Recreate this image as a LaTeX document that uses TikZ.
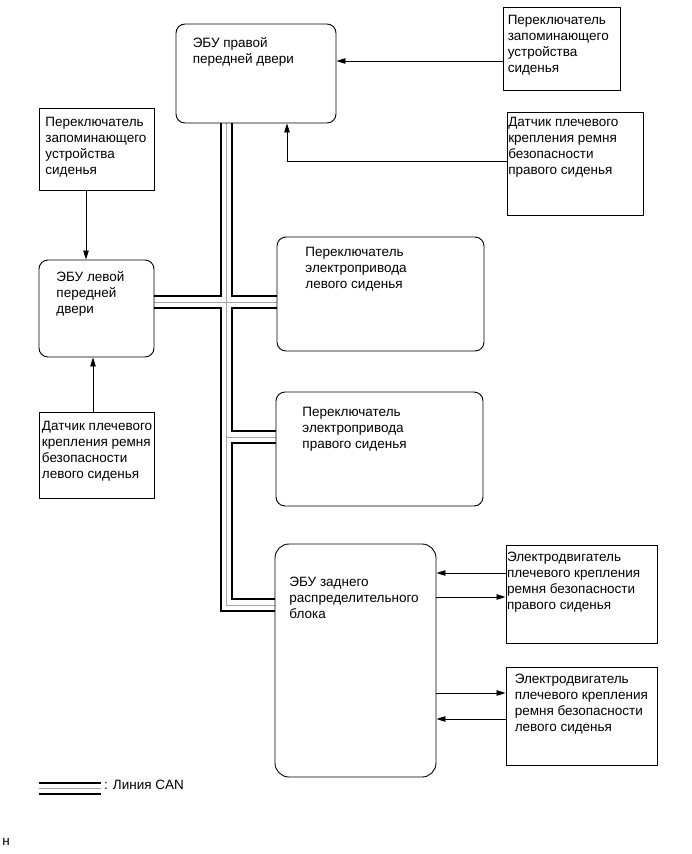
\documentclass[tikz,border=0pt]{standalone}
\usepackage{fontspec}
\setmainfont{Liberation Sans}
\usetikzlibrary{arrows.meta,backgrounds}

\begin{document}
\begin{tikzpicture}[
  x=1pt,y=-1pt,
  font=\fontsize{13.5}{16}\selectfont,
  box/.style={draw=black,line width=0.9pt,inner sep=0pt},
  rbox/.style={box,rounded corners=9pt},
  txt/.style={anchor=north west,inner sep=0pt,align=left},
  arr/.style={-{Triangle[length=9pt,width=5.5pt]},line width=0.8pt},
  canA/.style={line width=13.5pt},
  canB/.style={white,line width=9.5pt},
  canC/.style={gray!70,line width=0.7pt}
]
\useasboundingbox (0,0) rectangle (691,854);

\node[rbox,minimum width=160pt,minimum height=99pt] (ecuRF) at (256,73.5) {};
\node[txt] (ecuRF-t) at ([shift={(17,14)}]ecuRF.north west) {ЭБУ правой\\передней двери};
\node[box,minimum width=117pt,minimum height=83pt] (memR) at (561.5,48.5) {};
\node[txt] (memR-t) at ([shift={(5,8)}]memR.north west) {Переключатель\\запоминающего\\устройства\\сиденья};
\node[box,minimum width=136pt,minimum height=103pt] (belR) at (575,163.5) {};
\node[txt] (belR-t) at ([shift={(1.5,5)}]belR.north west) {Датчик плечевого\\крепления ремня\\безопасности\\правого сиденья};

\node[box,minimum width=115pt,minimum height=82pt] (memL) at (96.5,149) {};
\node[txt] (memL-t) at ([shift={(6.7,9.3)}]memL.north west) {Переключатель\\запоминающего\\устройства\\сиденья};
\node[rbox,minimum width=115pt,minimum height=97pt] (ecuLF) at (96.5,308.5) {};
\node[txt] (ecuLF-t) at ([shift={(17.7,11.7)}]ecuLF.north west) {ЭБУ левой\\передней\\двери};
\node[box,minimum width=115pt,minimum height=86pt] (belL) at (96.5,455) {};
\node[txt] (belL-t) at ([shift={(3.2,9.7)}]belL.north west) {Датчик плечевого\\крепления ремня\\безопасности\\левого сиденья};

\node[rbox,minimum width=207pt,minimum height=114pt] (seatL) at (380.5,294) {};
\node[txt] (seatL-t) at ([shift={(28.7,10.7)}]seatL.north west) {Переключатель\\электропривода\\левого сиденья};
\node[rbox,minimum width=207pt,minimum height=114pt] (seatR) at (379.5,449) {};
\node[txt] (seatR-t) at ([shift={(26.7,15.3)}]seatR.north west) {Переключатель\\электропривода\\правого сиденья};
\node[rbox,rounded corners=14pt,minimum width=161pt,minimum height=233pt] (ecuRr) at (355.5,660.5) {};
\node[txt] (ecuRr-t) at ([shift={(14.7,33.7)}]ecuRr.north west) {ЭБУ заднего\\распределительного\\блока};

\node[box,minimum width=151pt,minimum height=98pt] (motR) at (581.5,594) {};
\node[txt] (motR-t) at ([shift={(1.3,7.7)}]motR.north west) {Электродвигатель\\плечевого крепления\\ремня безопасности\\правого сиденья};
\node[box,minimum width=151pt,minimum height=98pt] (motL) at (581.5,716) {};
\node[txt] (motL-t) at ([shift={(9,7)}]motL.north west) {Электродвигатель\\плечевого крепления\\ремня безопасности\\левого сиденья};

\draw[arr] (memR.west |- 0,61) -- (ecuRF.east |- 0,61);
\draw[arr] (belR.west |- 0,161) -| ([xshift=31pt]ecuRF.south);
\draw[arr] ([xshift=-10.5pt]memL.south) -- ([xshift=-10.5pt]ecuLF.north);
\draw[arr] ([xshift=-3.5pt]belL.north) -- ([xshift=-3.5pt]ecuLF.south);
\draw[arr] (motR.west |- 0,573) -- (ecuRr.east |- 0,573);
\draw[arr] (ecuRr.east |- 0,597) -- (motR.west |- 0,597);
\draw[arr] (ecuRr.east |- 0,693) -- (motL.west |- 0,693);
\draw[arr] (motL.west |- 0,719) -- (ecuRr.east |- 0,719);

\coordinate (bus) at (226.5,605);
\coordinate (jL) at (226.5,302);
\coordinate (jR) at (226.5,437);
\coordinate (legA) at (39,788.5);
\coordinate (legB) at (101,788.5);
\begin{scope}[on background layer]
\foreach \ly in {canA,canB,canC}{
  \draw[\ly] (ecuRF.south -| bus) -- (bus) -- (bus -| ecuRr.west);
  \draw[\ly] (jL -| ecuLF.east) -- (jL -| seatL.west);
  \draw[\ly] (jR) -- (jR -| seatR.west);
  \draw[\ly] (legA) -- (legB);
}
\end{scope}
\node[anchor=west,inner sep=0pt] (legT) at ([shift={(3,-3.5)}]legB) {: Линия CAN};
\node[inner sep=0pt] (mark) at (6,842) {н};
\end{tikzpicture}
\end{document}
